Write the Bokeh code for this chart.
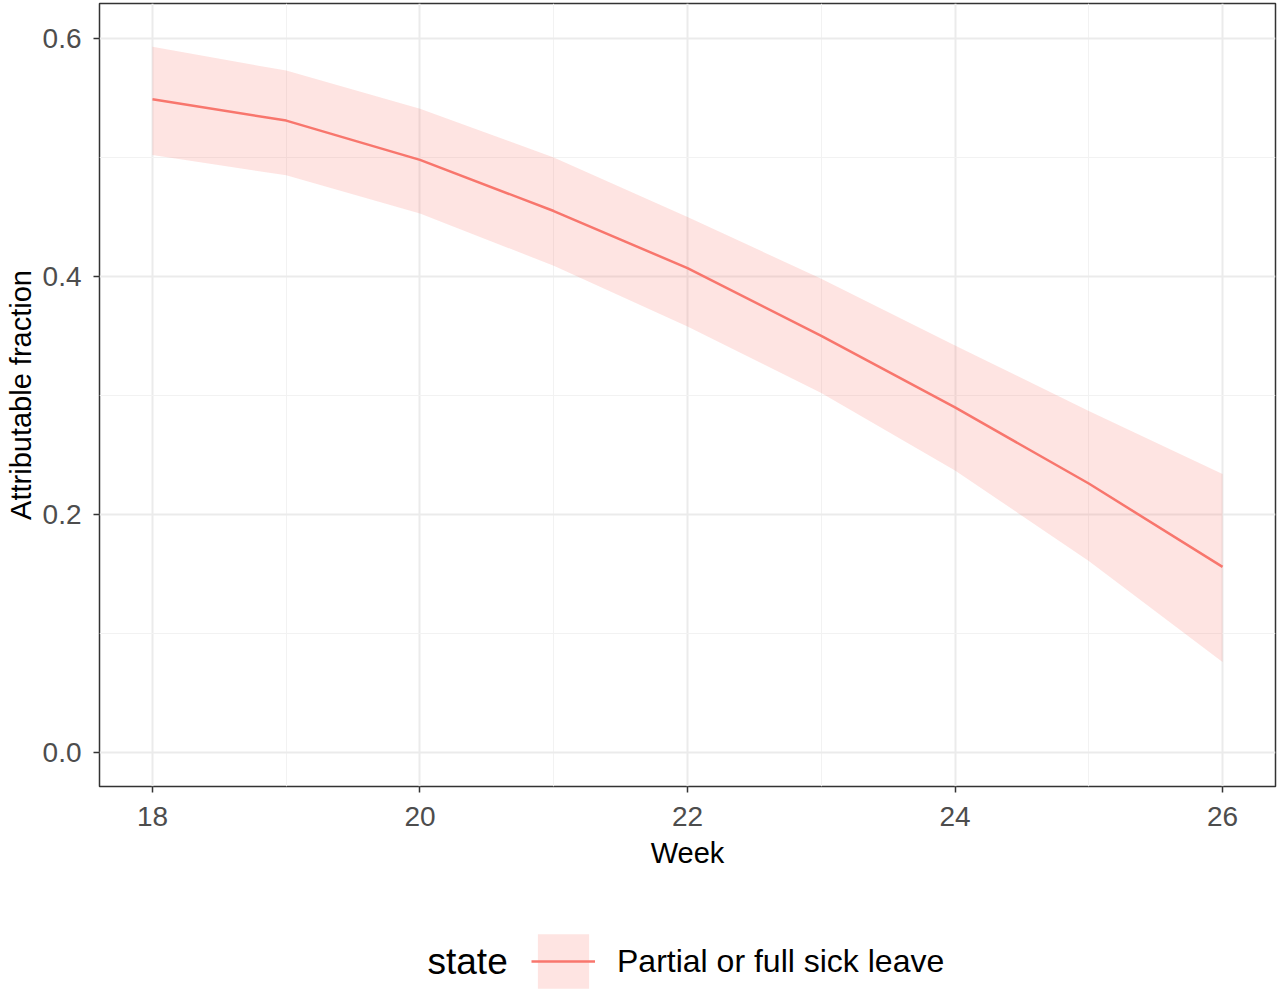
from bokeh.plotting import figure
from bokeh.layouts import column
from bokeh.models import (ColumnDataSource, Legend, LegendItem, Label, FixedTicker,
                          Range1d, NumeralTickFormatter)
from bokeh.embed import file_html
from bokeh.resources import INLINE

# data
week = [18, 19, 20, 21, 22, 23, 24, 25, 26]
af = [0.549, 0.531, 0.498, 0.455, 0.407, 0.350, 0.290, 0.226, 0.156]
af_upper = [0.593, 0.573, 0.541, 0.500, 0.450, 0.398, 0.342, 0.287, 0.234]
af_lower = [0.502, 0.485, 0.453, 0.409, 0.358, 0.302, 0.237, 0.161, 0.076]
x_ticks = [18, 20, 22, 24, 26]
x_minor = [19, 21, 23, 25]
y_ticks = [0.0, 0.2, 0.4, 0.6]
y_minor = [0.1, 0.3, 0.5]
series_name = "Partial or full sick leave"
legend_title = "state"

FONT = "Liberation Sans"
RED = "#F8766D"

src = ColumnDataSource(dict(week=week, af=af, lo=af_lower, hi=af_upper))

# main panel
p = figure(width=1278, height=890, output_backend="svg", toolbar_location=None,
           x_range=Range1d(17.604, 26.396), y_range=Range1d(-0.0286, 0.6294),
           min_border_left=99, min_border_right=3, min_border_top=3, min_border_bottom=104)

p.varea(x="week", y1="lo", y2="hi", source=src, fill_color=RED, fill_alpha=0.2)
p.line(x="week", y="af", source=src, line_color=RED, line_width=2.5)

# frame
p.outline_line_color = "#333333"
p.outline_line_width = 1.5

# grid
p.xaxis.ticker = FixedTicker(ticks=x_ticks, minor_ticks=x_minor)
p.yaxis.ticker = FixedTicker(ticks=y_ticks, minor_ticks=y_minor)
for g in (p.xgrid, p.ygrid):
    g.grid_line_color = "#EBEBEB"
    g.grid_line_width = 2
    g.minor_grid_line_color = "#F2F2F2"
    g.minor_grid_line_width = 1

# axes
for ax in (p.xaxis, p.yaxis):
    ax.axis_line_color = None
    ax.major_tick_line_color = "#333333"
    ax.major_tick_line_width = 1.5
    ax.major_tick_in = 0
    ax.major_tick_out = 6
    ax.minor_tick_line_color = None
    ax.major_label_text_font = FONT
    ax.major_label_text_font_size = "28px"
    ax.major_label_text_color = "#4D4D4D"
    ax.axis_label_text_font = FONT
    ax.axis_label_text_font_size = "29px"
    ax.axis_label_text_font_style = "normal"
    ax.axis_label_text_color = "black"

p.xaxis.axis_label = "Week"
p.yaxis.axis_label = "Attributable fraction"
p.xaxis.major_label_standoff = 14
p.yaxis.major_label_standoff = 12
p.xaxis.axis_label_standoff = 8
p.yaxis.axis_label_standoff = 3
p.yaxis.formatter = NumeralTickFormatter(format="0.0")

# legend strip below, sharing the same data source (data lies outside its ranges)
# its frame is aligned with the main frame by the column layout
q = figure(width=1278, height=100, output_backend="svg", toolbar_location=None,
           x_range=Range1d(0, 1), y_range=Range1d(0, 1),
           min_border_left=99, min_border_right=3, min_border_top=0, min_border_bottom=0)
q.axis.visible = False
q.grid.visible = False
q.outline_line_color = None
band_key = q.varea(x="week", y1="lo", y2="hi", source=src, fill_color=RED, fill_alpha=0.2)
line_key = q.line(x="week", y="af", source=src, line_color=RED, line_width=2.5)

legend = Legend(items=[LegendItem(label=series_name, renderers=[band_key, line_key])],
                location=(432, -5), orientation="horizontal",
                glyph_width=64, glyph_height=68, label_standoff=22,
                label_text_font=FONT, label_text_font_size="32px",
                label_text_color="black", border_line_color=None,
                background_fill_alpha=0, padding=0, margin=0)
q.add_layout(legend, "center")

q.add_layout(Label(x=328, y=29, x_units="screen", y_units="screen",
                   text=legend_title, text_font=FONT, text_font_size="37px",
                   text_color="black", text_baseline="middle"))

open("out.html", "w").write(file_html(column(p, q, spacing=0), INLINE))
